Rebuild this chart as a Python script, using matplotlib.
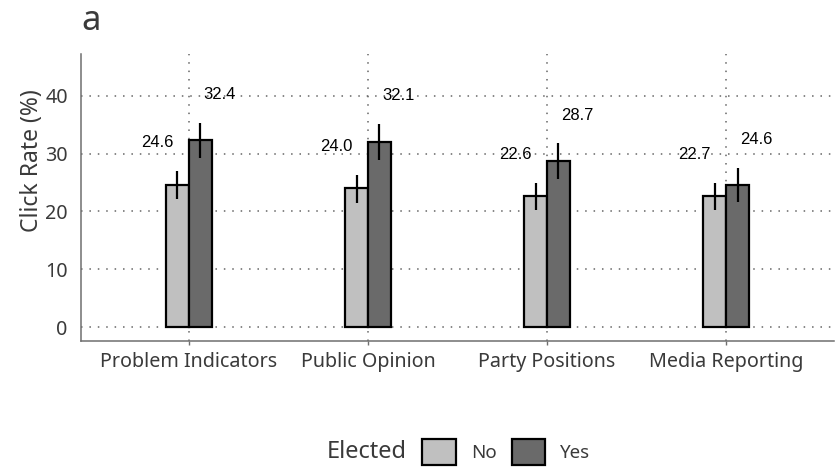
import numpy as np
import matplotlib
matplotlib.use("Agg")
import matplotlib.pyplot as plt
from matplotlib.patches import Patch

# data
categories = ["Problem Indicators", "Public Opinion", "Party Positions", "Media Reporting"]
groups = ["No", "Yes"]
rate_no = [24.6, 24.0, 22.6, 22.7]
rate_yes = [32.4, 32.1, 28.7, 24.6]
lo_no = [22.2, 21.4, 20.2, 20.2]
hi_no = [27.0, 26.3, 24.9, 25.0]
lo_yes = [29.2, 28.9, 25.7, 21.6]
hi_yes = [35.4, 35.2, 31.8, 27.5]

col_no = "#c0c0c0"
col_yes = "#6a6a6a"
txt_col = "#3a3a3a"
axis_font = ["Noto Sans", "DejaVu Sans"]

plt.rcParams["font.family"] = axis_font

fig = plt.figure(figsize=(8.35, 4.70), dpi=100)
ax = fig.add_axes([0.097, 0.2745, 0.9018, 0.6106])

x = np.arange(1, len(categories) + 1)
w = 0.128

# grid first so bars sit on top
for yv in [0, 10, 20, 30, 40]:
    ax.axhline(yv, color="#666666", lw=1.1, ls=(0, (1, 4.5)), zorder=0)
for xv in x:
    ax.axvline(xv, color="#666666", lw=1.1, ls=(0, (1, 4.5)), zorder=0)

ax.bar(x - w / 2, rate_no, w, color=col_no, edgecolor="black", lw=1.6, zorder=2)
ax.bar(x + w / 2, rate_yes, w, color=col_yes, edgecolor="black", lw=1.6, zorder=2)

ax.vlines(x - w / 2, lo_no, hi_no, color="black", lw=1.6, zorder=3)
ax.vlines(x + w / 2, lo_yes, hi_yes, color="black", lw=1.6, zorder=3)

# value labels above the error bars
for i in range(len(categories)):
    ax.text(x[i] - 0.088, hi_no[i] + 4.9, f"{rate_no[i]:.1f}", ha="right", va="center",
            fontsize=12, family="Liberation Sans", color="black", zorder=4)
    ax.text(x[i] + 0.08, hi_yes[i] + 4.9, f"{rate_yes[i]:.1f}", ha="left", va="center",
            fontsize=12, family="Liberation Sans", color="black", zorder=4)

ax.set_xlim(0.397, 4.603)
ax.set_ylim(-2.42, 47.27)
ax.set_xticks(x)
ax.set_xticklabels(categories)
ax.set_yticks([0, 10, 20, 30, 40])

for s in ["top", "right"]:
    ax.spines[s].set_visible(False)
for s in ["left", "bottom"]:
    ax.spines[s].set_color("#6f6f6f")
    ax.spines[s].set_linewidth(1.1)

ax.tick_params(axis="x", length=3, width=1, color="#6f6f6f", pad=5,
               labelsize=14.2, labelcolor=txt_col)
ax.tick_params(axis="y", length=0, pad=9.5, labelsize=14.2, labelcolor=txt_col)

ax.set_ylabel("Click Rate (%)", fontsize=16.5, color=txt_col)
ax.yaxis.set_label_coords(-0.049, 0.627)

fig.text(81 / 835, 1 - 30 / 470, "a", fontsize=25, color=txt_col, va="baseline", ha="left")

# legend: title to the left, keys in a row
fig.text(327 / 835, 1 - 452 / 470, "Elected", fontsize=17, color=txt_col, va="center", ha="left")
handles = [Patch(facecolor=col_no, edgecolor="black", lw=1.6),
           Patch(facecolor=col_yes, edgecolor="black", lw=1.6)]
fig.legend(handles, groups, loc="center left", bbox_to_anchor=(422 / 835, 1 - 452 / 470),
           ncol=2, frameon=False, fontsize=13.5, labelcolor=txt_col,
           handlelength=1.8, handleheight=1.75, handletextpad=0.8, columnspacing=0.8,
           borderpad=0, borderaxespad=0)

fig.savefig("out.png", dpi=100)
